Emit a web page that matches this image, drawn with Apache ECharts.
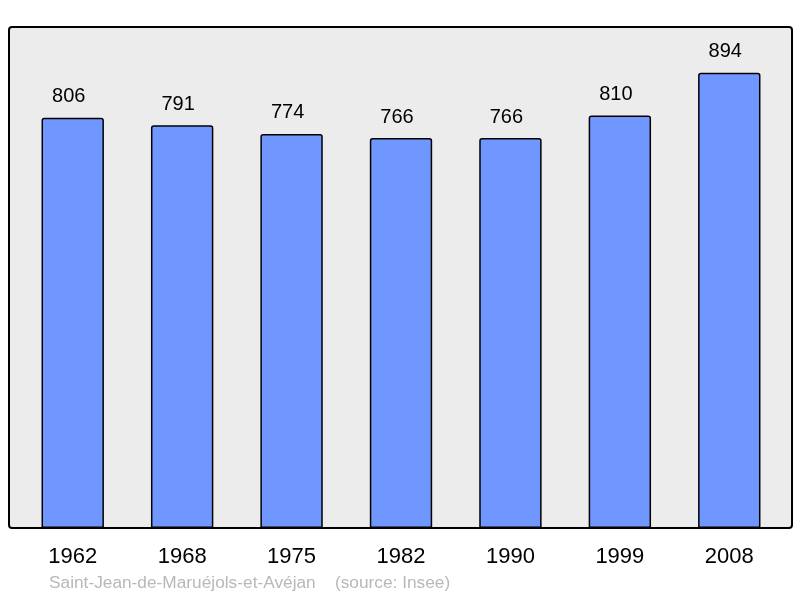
<!DOCTYPE html>
<html>
<head>
<meta charset="utf-8">
<script src="https://cdn.jsdelivr.net/npm/echarts@6/dist/echarts.min.js"></script>
<style>html,body{margin:0;padding:0;background:#fff;}#c{width:800px;height:598px;}</style>
</head>
<body>
<div id="c"></div>
<script>
var years = ['1962','1968','1975','1982','1990','1999','2008'];
var population = [806, 791, 774, 766, 766, 810, 894];
var footerText = 'Saint-Jean-de-Maruéjols-et-Avéjan    (source: Insee)';

var chart = echarts.init(document.getElementById('c'), null, {renderer:'canvas'});
chart.setOption({
  animation: false,
  textStyle: {fontFamily: 'Liberation Sans, Arial, sans-serif'},
  graphic: [
    {type:'rect', z:-10, shape:{x:9, y:27, width:783, height:501, r:3},
     style:{fill:'#ececec', stroke:'#000', lineWidth:2}},
    {type:'text', left:49, top:575, style:{text:footerText, fill:'#b8b8b8', font:'17.3px Liberation Sans, Arial, sans-serif'}}
  ],
  grid: {left:18, right:16, top:27, bottom:70},
  xAxis: {
    type:'category', data: years,
    axisLine:{show:false}, axisTick:{show:false},
    axisLabel:{color:'#000', fontSize:22, margin:18}
  },
  yAxis: {
    type:'value', min:0, max:984,
    show:false, splitLine:{show:false}
  },
  series: [{
    type:'bar', data: population, barWidth:'57%',
    itemStyle:{color:'#7097ff', borderColor:'#000', borderWidth:1.5, borderRadius:[2,2,0,0]},
    label:{show:true, position:'top', distance:11, offset:[-4,0], color:'#000', fontSize:20}
  }]
});
</script>
</body>
</html>
